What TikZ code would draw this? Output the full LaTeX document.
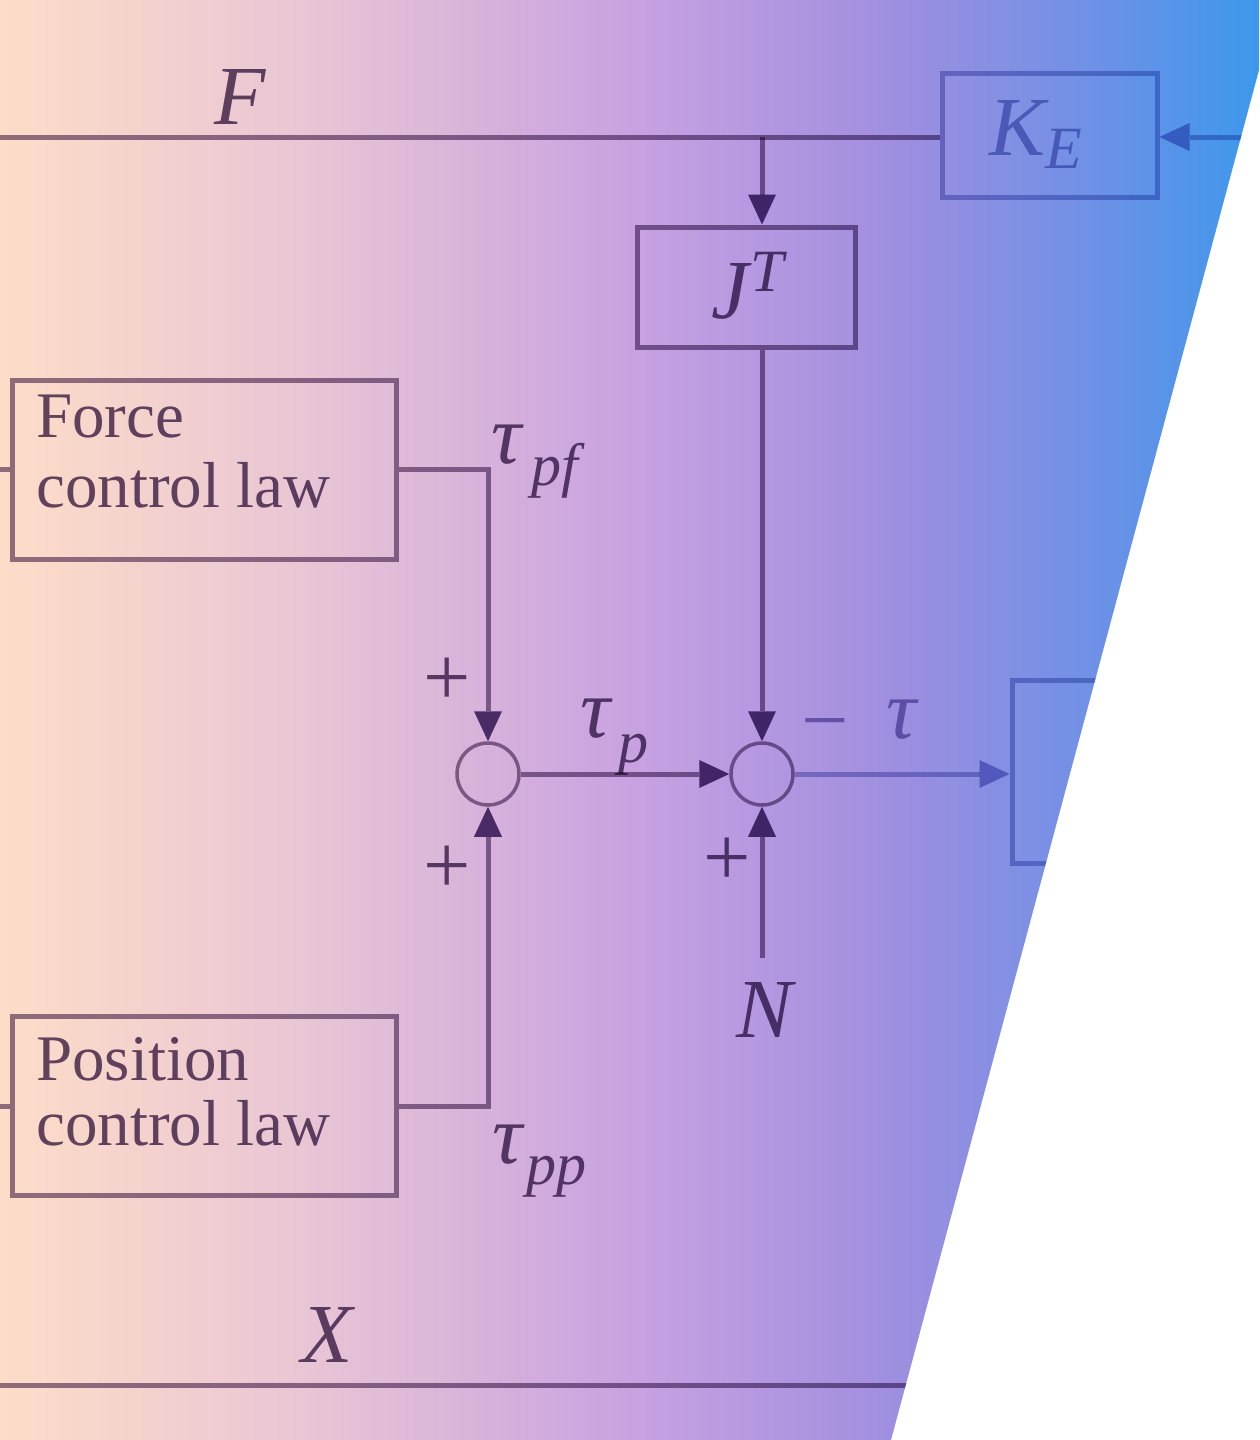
\documentclass[tikz,border=0pt]{standalone}
\usepackage{fontspec}
\setmainfont{Liberation Serif}
\usetikzlibrary{arrows.meta}
\definecolor{c0}{RGB}{253,221,200}
\definecolor{c1}{RGB}{233,198,212}
\definecolor{c2}{RGB}{198,160,225}
\definecolor{c3}{RGB}{158,142,224}
\definecolor{c4}{RGB}{108,145,230}
\definecolor{c5}{RGB}{60,152,236}
\definecolor{linec}{RGB}{145,125,155}
\definecolor{txtc}{RGB}{100,78,115}
\definecolor{arrc}{RGB}{90,62,118}
\definecolor{linecR}{RGB}{172,178,216}
\definecolor{arrcR}{RGB}{158,158,212}
\definecolor{txtcR}{RGB}{150,158,205}
\definecolor{txtcM}{RGB}{150,140,190}
\pgfdeclarehorizontalshading{bgshade}{100bp}{color(0bp)=(c0); color(25bp)=(c0); color(36.9bp)=(c1); color(50.8bp)=(c2); color(60.7bp)=(c3); color(68.7bp)=(c4); color(75bp)=(c5); color(100bp)=(c5)}
\newcommand{\mathfs}{\fontsize{84}{90}\selectfont\itshape}
\newcommand{\subfs}{\fontsize{60}{66}\selectfont\itshape}
\newcommand{\txtfs}{\fontsize{65}{72}\selectfont}
\tikzset{
  ln/.style={line width=5pt, draw=linec},
  arr/.style={ln, -{Triangle[length=30pt,width=28pt,color=arrc,line width=0pt]}},
  lnR/.style={line width=5pt, draw=linecR},
  arrR/.style={lnR, -{Triangle[length=30pt,width=28pt,color=arrcR,line width=0pt]}},
  blk/.style={draw=linec, line width=5pt, inner sep=0pt},
  blkR/.style={draw=linecR, line width=5pt, inner sep=0pt},
  sumc/.style={circle, draw=linec, line width=3.5pt, minimum size=62pt, inner sep=0pt},
  mlbl/.style={inner sep=0pt, text=txtc, font=\mathfs},
  slbl/.style={inner sep=0pt, text=txtc, font=\subfs},
  tlbl/.style={inner sep=0pt, text=txtc, font=\txtfs, anchor=base west},
}
\begin{document}
\begin{tikzpicture}[x=1pt,y=-1pt]
\useasboundingbox (0,0) rectangle (1259,1440);
\shade[shading=bgshade] (0,0) -- (1259,0) -- (1259,70) -- (891,1440) -- (0,1440) -- cycle;
\begin{scope}
\clip (0,0) -- (1259,0) -- (1259,70) -- (891,1440) -- (0,1440) -- cycle;
\begin{scope}[blend mode=multiply]
% blocks
\node[blkR, minimum width=215pt, minimum height=124pt] (ke) at (1049.5,135) {};
\node[blk, minimum width=218pt, minimum height=120pt] (jt) at (746,287) {};
\node[blk, minimum width=384pt, minimum height=179pt] (force) at (204,469.5) {};
\node[blk, minimum width=384pt, minimum height=179pt] (pos) at (204,1106) {};
\node[blkR, minimum width=308pt, minimum height=183pt] (rb) at (1166,772) {};
\node[sumc] (s1) at (488,774) {};
\node[sumc] (s2) at (762,774) {};
% coordinates
\coordinate (fin) at (0,137);
\coordinate (br) at (762,137);
\coordinate (kin) at (1300,137);
\coordinate (fstub) at (0,469.5);
\coordinate (pstub) at (0,1106);
\coordinate (nin) at (762,958);
\coordinate (xl) at (0,1385);
\coordinate (xr) at (1259,1385);
% connectors
\draw[ln] (fin) -- (fin -| ke.west);
\draw[arrR] (kin) -- (kin -| ke.east);
\draw[arr] (br) -- (jt.north -| br);
\draw[arr] (jt.south -| br) -- (s2.north);
\draw[ln] (fstub) -- (force.west);
\draw[ln] (pstub) -- (pos.west);
\draw[arr] (force.east) -| (s1.north);
\draw[arr] (pos.east) -| (s1.south);
\draw[arr] (s1.east) -- (s2.west);
\draw[arrR] (s2.east) -- (s2.east -| rb.west);
\draw[arr] (nin) -- (s2.south);
\draw[ln] (xl) -- (xr);
% texts
\node[tlbl] (ft1) at (36,437) {Force};
\node[tlbl] (ft2) at (36,507) {control law};
\node[tlbl] (pt1) at (36,1080) {Position};
\node[tlbl] (pt2) at (36,1145) {control law};
\node[mlbl] (lF) at (240,97) {F};
\node[mlbl, text=txtcR] (lK) at (1018,128) {K};
\node[slbl, text=txtcR] (lE) at (1064,149) {E};
\node[mlbl] (lJ) at (730,291) {J};
\node[slbl] (lT) at (767,272) {T};
\node[mlbl] (tpf) at (507,445) {τ};
\node[slbl] (tpfs) at (555,471) {pf};
\node[mlbl] (tp) at (596,719) {τ};
\node[slbl] (tps) at (633,755) {p};
\node[mlbl] (tpp) at (508,1145) {τ};
\node[slbl] (tpps) at (556,1177) {pp};
\node[mlbl, text=txtcM, anchor=base] (lmin) at (825,748) {\upshape −};
\node[mlbl, text=txtcM] (ltau) at (902,720) {τ};
\node[mlbl] (pl1) at (447,682) {\upshape +};
\node[mlbl] (pl2) at (447,870) {\upshape +};
\node[mlbl] (pl3) at (727,862) {\upshape +};
\node[mlbl] (lN) at (765,1010) {N};
\node[mlbl] (lX) at (327,1335) {X};
\end{scope}
\end{scope}
\end{tikzpicture}
\end{document}
